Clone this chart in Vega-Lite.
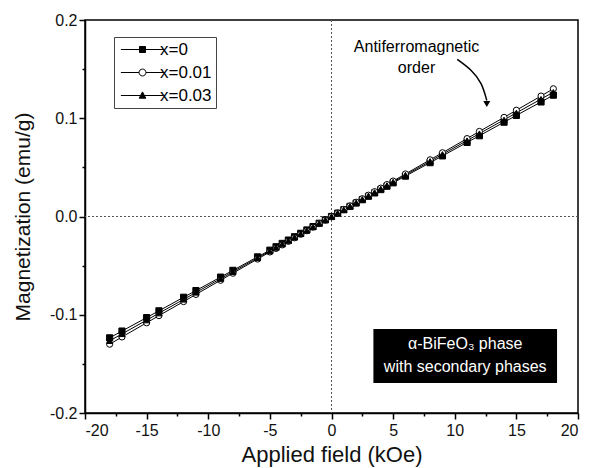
{
  "$schema": "https://vega.github.io/schema/vega-lite/v6.json",
  "width": 493,
  "height": 393,
  "autosize": {"type": "none"},
  "padding": {"left": 85, "top": 20, "right": 11, "bottom": 55},
  "background": "white",
  "config": {
    "font": "Liberation Sans",
    "view": {"stroke": "black", "strokeWidth": 1.5},
    "axis": {
      "labelFont": "Liberation Sans",
      "labelFontSize": 16,
      "labelColor": "#111",
      "titleFont": "Liberation Sans",
      "titleFontSize": 21,
      "titleFontWeight": "normal",
      "titleColor": "#111",
      "grid": false,
      "domainColor": "black",
      "domainWidth": 1.5,
      "tickColor": "black",
      "tickWidth": 1.5
    },
    "legend": {
      "orient": "none",
      "legendX": 29,
      "legendY": 17,
      "strokeColor": "#444",
      "strokeWidth": 1,
      "padding": 4,
      "symbolSize": 36,
      "symbolStrokeWidth": 1,
      "labelFont": "Liberation Sans",
      "labelFontSize": 17,
      "labelColor": "black",
      "symbolOffset": 16,
      "labelOffset": 9,
      "rowPadding": 5
    }
  },
  "datasets": {
    "mag": [
      {"H": -18, "M": -0.1235, "s": "x=0"}, {"H": -17, "M": -0.1166, "s": "x=0"}, {"H": -15, "M": -0.1029, "s": "x=0"}, {"H": -14, "M": -0.0960, "s": "x=0"}, {"H": -12, "M": -0.0822, "s": "x=0"}, {"H": -11, "M": -0.0754, "s": "x=0"}, {"H": -9, "M": -0.0617, "s": "x=0"}, {"H": -8, "M": -0.0548, "s": "x=0"}, {"H": -6, "M": -0.0411, "s": "x=0"}, {"H": -5, "M": -0.0343, "s": "x=0"}, {"H": -4.5, "M": -0.0308, "s": "x=0"}, {"H": -4, "M": -0.0274, "s": "x=0"}, {"H": -3.5, "M": -0.0240, "s": "x=0"}, {"H": -3, "M": -0.0206, "s": "x=0"}, {"H": -2.5, "M": -0.0171, "s": "x=0"}, {"H": -2, "M": -0.0137, "s": "x=0"}, {"H": -1.5, "M": -0.0103, "s": "x=0"}, {"H": -1, "M": -0.0069, "s": "x=0"}, {"H": -0.5, "M": -0.0034, "s": "x=0"}, {"H": 0, "M": 0.0, "s": "x=0"}, {"H": 0.5, "M": 0.0034, "s": "x=0"}, {"H": 1, "M": 0.0069, "s": "x=0"}, {"H": 1.5, "M": 0.0103, "s": "x=0"}, {"H": 2, "M": 0.0137, "s": "x=0"}, {"H": 2.5, "M": 0.0171, "s": "x=0"}, {"H": 3, "M": 0.0206, "s": "x=0"}, {"H": 3.5, "M": 0.0240, "s": "x=0"}, {"H": 4, "M": 0.0274, "s": "x=0"}, {"H": 4.5, "M": 0.0308, "s": "x=0"}, {"H": 5, "M": 0.0343, "s": "x=0"}, {"H": 6, "M": 0.0411, "s": "x=0"}, {"H": 8, "M": 0.0548, "s": "x=0"}, {"H": 9, "M": 0.0617, "s": "x=0"}, {"H": 11, "M": 0.0754, "s": "x=0"}, {"H": 12, "M": 0.0822, "s": "x=0"}, {"H": 14, "M": 0.0960, "s": "x=0"}, {"H": 15, "M": 0.1029, "s": "x=0"}, {"H": 17, "M": 0.1166, "s": "x=0"}, {"H": 18, "M": 0.1235, "s": "x=0"},
      {"H": -18, "M": -0.1300, "s": "x=0.01"}, {"H": -17, "M": -0.1226, "s": "x=0.01"}, {"H": -15, "M": -0.1082, "s": "x=0.01"}, {"H": -14, "M": -0.1009, "s": "x=0.01"}, {"H": -12, "M": -0.0866, "s": "x=0.01"}, {"H": -11, "M": -0.0793, "s": "x=0.01"}, {"H": -9, "M": -0.0649, "s": "x=0.01"}, {"H": -8, "M": -0.0577, "s": "x=0.01"}, {"H": -6, "M": -0.0433, "s": "x=0.01"}, {"H": -5, "M": -0.0361, "s": "x=0.01"}, {"H": -4.5, "M": -0.0325, "s": "x=0.01"}, {"H": -4, "M": -0.0289, "s": "x=0.01"}, {"H": -3.5, "M": -0.0253, "s": "x=0.01"}, {"H": -3, "M": -0.0217, "s": "x=0.01"}, {"H": -2.5, "M": -0.0181, "s": "x=0.01"}, {"H": -2, "M": -0.0145, "s": "x=0.01"}, {"H": -1.5, "M": -0.0108, "s": "x=0.01"}, {"H": -1, "M": -0.0072, "s": "x=0.01"}, {"H": -0.5, "M": -0.0036, "s": "x=0.01"}, {"H": 0, "M": 0.0, "s": "x=0.01"}, {"H": 0.5, "M": 0.0036, "s": "x=0.01"}, {"H": 1, "M": 0.0072, "s": "x=0.01"}, {"H": 1.5, "M": 0.0108, "s": "x=0.01"}, {"H": 2, "M": 0.0145, "s": "x=0.01"}, {"H": 2.5, "M": 0.0181, "s": "x=0.01"}, {"H": 3, "M": 0.0217, "s": "x=0.01"}, {"H": 3.5, "M": 0.0253, "s": "x=0.01"}, {"H": 4, "M": 0.0289, "s": "x=0.01"}, {"H": 4.5, "M": 0.0325, "s": "x=0.01"}, {"H": 5, "M": 0.0361, "s": "x=0.01"}, {"H": 6, "M": 0.0433, "s": "x=0.01"}, {"H": 8, "M": 0.0577, "s": "x=0.01"}, {"H": 9, "M": 0.0649, "s": "x=0.01"}, {"H": 11, "M": 0.0793, "s": "x=0.01"}, {"H": 12, "M": 0.0866, "s": "x=0.01"}, {"H": 14, "M": 0.1009, "s": "x=0.01"}, {"H": 15, "M": 0.1082, "s": "x=0.01"}, {"H": 17, "M": 0.1226, "s": "x=0.01"}, {"H": 18, "M": 0.1300, "s": "x=0.01"},
      {"H": -18, "M": -0.1265, "s": "x=0.03"}, {"H": -17, "M": -0.1195, "s": "x=0.03"}, {"H": -15, "M": -0.1055, "s": "x=0.03"}, {"H": -14, "M": -0.0984, "s": "x=0.03"}, {"H": -12, "M": -0.0844, "s": "x=0.03"}, {"H": -11, "M": -0.0773, "s": "x=0.03"}, {"H": -9, "M": -0.0633, "s": "x=0.03"}, {"H": -8, "M": -0.0562, "s": "x=0.03"}, {"H": -6, "M": -0.0422, "s": "x=0.03"}, {"H": -5, "M": -0.0352, "s": "x=0.03"}, {"H": -4.5, "M": -0.0316, "s": "x=0.03"}, {"H": -4, "M": -0.0281, "s": "x=0.03"}, {"H": -3.5, "M": -0.0246, "s": "x=0.03"}, {"H": -3, "M": -0.0211, "s": "x=0.03"}, {"H": -2.5, "M": -0.0176, "s": "x=0.03"}, {"H": -2, "M": -0.0141, "s": "x=0.03"}, {"H": -1.5, "M": -0.0105, "s": "x=0.03"}, {"H": -1, "M": -0.0070, "s": "x=0.03"}, {"H": -0.5, "M": -0.0035, "s": "x=0.03"}, {"H": 0, "M": 0.0, "s": "x=0.03"}, {"H": 0.5, "M": 0.0035, "s": "x=0.03"}, {"H": 1, "M": 0.0070, "s": "x=0.03"}, {"H": 1.5, "M": 0.0105, "s": "x=0.03"}, {"H": 2, "M": 0.0141, "s": "x=0.03"}, {"H": 2.5, "M": 0.0176, "s": "x=0.03"}, {"H": 3, "M": 0.0211, "s": "x=0.03"}, {"H": 3.5, "M": 0.0246, "s": "x=0.03"}, {"H": 4, "M": 0.0281, "s": "x=0.03"}, {"H": 4.5, "M": 0.0316, "s": "x=0.03"}, {"H": 5, "M": 0.0352, "s": "x=0.03"}, {"H": 6, "M": 0.0422, "s": "x=0.03"}, {"H": 8, "M": 0.0562, "s": "x=0.03"}, {"H": 9, "M": 0.0633, "s": "x=0.03"}, {"H": 11, "M": 0.0773, "s": "x=0.03"}, {"H": 12, "M": 0.0844, "s": "x=0.03"}, {"H": 14, "M": 0.0984, "s": "x=0.03"}, {"H": 15, "M": 0.1055, "s": "x=0.03"}, {"H": 17, "M": 0.1195, "s": "x=0.03"}, {"H": 18, "M": 0.1265, "s": "x=0.03"}
    ],
    "zero": [{"v": 0}],
    "note": [
      {"H": 6.9, "M": 0.1726, "t": "Antiferromagnetic"},
      {"H": 6.9, "M": 0.1512, "t": "order"}
    ],
    "arrow": [
      {"H": 10.2, "M": 0.160, "o": 0},
      {"H": 11.4, "M": 0.149, "o": 1},
      {"H": 12.2, "M": 0.136, "o": 2},
      {"H": 12.6, "M": 0.118, "o": 3}
    ],
    "head": [{"H": 12.6, "M": 0.1145}],
    "box": [{"H": 3.4, "H2": 18.3, "M": -0.1146, "M2": -0.1695}],
    "boxtext": [
      {"H": 10.85, "M": -0.1295, "t": "α-BiFeO₃ phase"},
      {"H": 10.85, "M": -0.1535, "t": "with secondary phases"}
    ]
  },
  "layer": [
    {
      "data": {"name": "zero"},
      "mark": {"type": "rule", "stroke": "#555", "strokeWidth": 1, "strokeDash": [2, 2]},
      "encoding": {"x": {"field": "v", "type": "quantitative", "scale": {"domain": [-20, 20], "nice": false}, "axis": null}}
    },
    {
      "data": {"name": "zero"},
      "mark": {"type": "rule", "stroke": "#555", "strokeWidth": 1, "strokeDash": [2, 2]},
      "encoding": {"y": {"field": "v", "type": "quantitative", "scale": {"domain": [-0.2, 0.2], "nice": false}, "axis": null}}
    },
    {
      "data": {"name": "mag"},
      "mark": {"type": "line", "stroke": "black", "strokeWidth": 1},
      "encoding": {
        "x": {"field": "H", "type": "quantitative", "scale": {"domain": [-20, 20], "nice": false},
          "axis": {"orient": "bottom", "values": [-20, -15, -10, -5, 0, 5, 10, 15, 20], "tickSize": 6, "title": "Applied field (kOe)", "titleFontSize": 22, "titlePadding": 6, "labelPadding": 3,
            "labelExpr": "(datum.value < 0 ? '-' : '') + format(abs(datum.value), 'd')"}},
        "y": {"field": "M", "type": "quantitative", "scale": {"domain": [-0.2, 0.2], "nice": false},
          "axis": {"orient": "left", "values": [-0.2, -0.1, 0, 0.1, 0.2], "tickSize": 6, "title": "Magnetization (emu/g)", "titlePadding": 16, "labelPadding": 2,
            "labelExpr": "(datum.value < -0.0001 ? '-' : '') + format(abs(datum.value), '.1f')"}},
        "detail": {"field": "s", "type": "nominal"}
      }
    },
    {
      "data": {"name": "mag"},
      "mark": {"type": "point", "filled": true, "stroke": "black", "strokeWidth": 1, "size": 38, "opacity": 1},
      "encoding": {
        "x": {"field": "H", "type": "quantitative",
          "axis": {"orient": "bottom", "values": [-17.5, -12.5, -7.5, -2.5, 2.5, 7.5, 12.5, 17.5], "tickSize": 3, "labels": false, "domain": false, "title": null}},
        "y": {"field": "M", "type": "quantitative",
          "axis": {"orient": "left", "values": [-0.15, -0.05, 0.05, 0.15], "tickSize": 3, "labels": false, "domain": false, "title": null}},
        "shape": {"field": "s", "type": "nominal", "scale": {"domain": ["x=0", "x=0.01", "x=0.03"], "range": ["square", "circle", "triangle-up"]}, "legend": null},
        "fill": {"field": "s", "type": "nominal", "scale": {"domain": ["x=0", "x=0.01", "x=0.03"], "range": ["black", "white", "black"]}, "legend": null}
      }
    },
    {
      "data": {"name": "box"},
      "mark": {"type": "rect", "fill": "black"},
      "encoding": {
        "x": {"field": "H", "type": "quantitative", "axis": null},
        "x2": {"field": "H2"},
        "y": {"field": "M", "type": "quantitative", "axis": null},
        "y2": {"field": "M2"}
      }
    },
    {
      "data": {"name": "boxtext"},
      "mark": {"type": "text", "color": "white", "fontSize": 16, "font": "Liberation Sans", "align": "center", "baseline": "middle"},
      "encoding": {
        "x": {"field": "H", "type": "quantitative", "axis": null},
        "y": {"field": "M", "type": "quantitative", "axis": null},
        "text": {"field": "t"}
      }
    },
    {
      "data": {"name": "note"},
      "mark": {"type": "text", "color": "black", "fontSize": 16, "font": "Liberation Sans", "align": "center", "baseline": "middle"},
      "encoding": {
        "x": {"field": "H", "type": "quantitative", "axis": null},
        "y": {"field": "M", "type": "quantitative", "axis": null},
        "text": {"field": "t"}
      }
    },
    {
      "data": {"name": "arrow"},
      "mark": {"type": "line", "stroke": "black", "strokeWidth": 1.5, "interpolate": "basis"},
      "encoding": {
        "x": {"field": "H", "type": "quantitative", "axis": null},
        "y": {"field": "M", "type": "quantitative", "axis": null},
        "order": {"field": "o"}
      }
    },
    {
      "data": {"name": "head"},
      "mark": {"type": "point", "shape": "triangle-down", "filled": true, "fill": "black", "strokeWidth": 0, "size": 50, "opacity": 1},
      "encoding": {
        "x": {"field": "H", "type": "quantitative", "axis": null},
        "y": {"field": "M", "type": "quantitative", "axis": null}
      }
    },
    {
      "data": {"name": "mag"},
      "transform": [{"filter": "false"}],
      "mark": {"type": "point", "filled": true, "stroke": "black", "strokeWidth": 1, "opacity": 1},
      "encoding": {
        "shape": {"field": "s", "type": "nominal", "title": null, "scale": {"domain": ["x=0", "x=0.01", "x=0.03"],
          "range": ["M-7.2,0H-1M1,0H7.2M-1,-1H1V1H-1Z", "M-7.2,0H-1.15M1.15,0H7.2M1.15,0A1.15,1.15,0,1,1,-1.15,0A1.15,1.15,0,1,1,1.15,0Z", "M-7.2,0H7.2M0,-1.2L1.1,0.9H-1.1Z"]}},
        "fill": {"field": "s", "type": "nominal", "title": null, "scale": {"domain": ["x=0", "x=0.01", "x=0.03"], "range": ["black", "white", "black"]}}
      }
    }
  ],
  "resolve": {
    "axis": {"x": "independent", "y": "independent"},
    "scale": {"shape": "independent", "fill": "independent"}
  }
}
